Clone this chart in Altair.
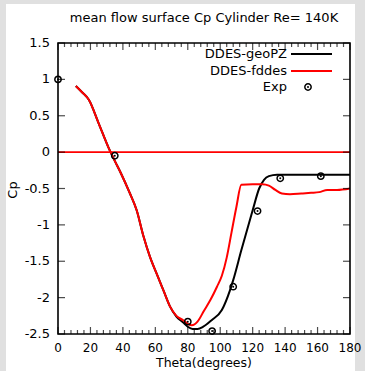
import altair as alt
import pandas as pd

FONT = "DejaVu Sans"
TITLE = "mean flow surface Cp Cylinder Re= 140K"
X_TITLE = "Theta(degrees)"
Y_TITLE = "Cp"

# DDES-geoPZ (black)
geo_theta = [11, 15, 19, 25, 31, 35, 39, 44, 48.5, 52.6, 56.7, 61, 65, 69, 73, 77, 80, 83, 86, 89.5, 94.7, 101, 106, 108, 113, 120, 124, 127, 130, 135, 150, 165, 180]
geo_cp = [0.91, 0.82, 0.72, 0.40, 0.07, -0.12, -0.30, -0.55, -0.80, -1.15, -1.44, -1.68, -1.90, -2.12, -2.26, -2.34, -2.40, -2.43, -2.43, -2.40, -2.31, -2.17, -1.90, -1.76, -1.35, -0.80, -0.50, -0.38, -0.33, -0.31, -0.31, -0.31, -0.31]

# DDES-fddes (red)
fd_theta = [11, 15, 19, 25, 31, 35, 39, 44, 48.5, 52.6, 56.7, 61, 65, 69, 73, 77, 80, 82.5, 86, 90, 94, 98, 101, 104, 107, 110, 113, 120, 126, 130, 134, 138, 143, 150, 156, 161, 166, 172, 180]
fd_cp = [0.91, 0.82, 0.72, 0.40, 0.07, -0.12, -0.30, -0.55, -0.80, -1.15, -1.44, -1.68, -1.90, -2.12, -2.25, -2.31, -2.36, -2.38, -2.33, -2.18, -2.03, -1.85, -1.70, -1.45, -1.10, -0.75, -0.45, -0.44, -0.44, -0.46, -0.52, -0.57, -0.58, -0.57, -0.56, -0.55, -0.52, -0.52, -0.50]

# Experiment
exp_theta = [0, 35, 80, 95, 108, 123, 137, 162]
exp_cp = [1.0, -0.05, -2.33, -2.46, -1.85, -0.81, -0.36, -0.33]

x_major = [0, 20, 40, 60, 80, 100, 120, 140, 160, 180]
x_labels = ["0", "20", "40", "60", "80", "100", "120", "140", "160", "180"]
x_minor = [v for v in range(0, 181, 4) if v % 20 != 0]
y_major = [-2.5, -2.0, -1.5, -1.0, -0.5, 0.0, 0.5, 1.0, 1.5]
y_labels = ["-2.5", "-2", "-1.5", "-1", "-0.5", "0", "0.5", "1", "1.5"]

legend_labels = ["DDES-geoPZ", "DDES-fddes", "Exp"]

W, H = 292, 291

geo = pd.DataFrame({"theta": geo_theta, "cp": geo_cp})
fd = pd.DataFrame({"theta": fd_theta, "cp": fd_cp})
exp = pd.DataFrame({"theta": exp_theta, "cp": exp_cp})
one = pd.DataFrame({"a": [0]})

xs = alt.Scale(domain=[0, 180], nice=False, zero=False)
ys = alt.Scale(domain=[-2.5, 1.5], nice=False, zero=False)

bg = alt.Chart(one).mark_rect(fill="white").encode(
    x=alt.value(-52), x2=alt.value(297), y=alt.value(-39), y2=alt.value(328))

geo_line = alt.Chart(geo).mark_line(color="black", strokeWidth=2, interpolate="monotone").encode(
    x=alt.X("theta:Q", scale=xs, axis=None), y=alt.Y("cp:Q", scale=ys, axis=None))

zero_line = alt.Chart(one).mark_rule(color="#ff0000", strokeWidth=1.6).encode(
    x=alt.datum(0), x2=alt.datum(180), y=alt.datum(0))

fd_line = alt.Chart(fd).mark_line(color="#ff0000", strokeWidth=2, interpolate="monotone").encode(
    x="theta:Q", y="cp:Q")

exp_ring = alt.Chart(exp).mark_point(shape="circle", filled=False, color="black", size=40,
                                     strokeWidth=1.5, opacity=1).encode(x="theta:Q", y="cp:Q")
exp_dot = alt.Chart(exp).mark_point(shape="circle", filled=True, color="black", size=4,
                                    opacity=1).encode(x="theta:Q", y="cp:Q")

frame = alt.Chart(one).mark_rect(fill=None, stroke="black", strokeWidth=1.6).encode(
    x=alt.datum(0), x2=alt.datum(180), y=alt.datum(-2.5), y2=alt.datum(1.5))

xmaj_df = pd.DataFrame({"theta": x_major, "lab": x_labels})
xmin_df = pd.DataFrame({"theta": x_minor})
ymaj_df = pd.DataFrame({"cp": y_major, "lab": y_labels})

tick_layers = []
for df, sz in [(xmaj_df, 7), (xmin_df, 4)]:
    tick_layers.append(alt.Chart(df).mark_tick(orient="vertical", size=sz, thickness=1.2, color="black",
                                               yOffset=-sz / 2).encode(x="theta:Q", y=alt.datum(-2.5)))
    tick_layers.append(alt.Chart(df).mark_tick(orient="vertical", size=sz, thickness=1.2, color="black",
                                               yOffset=sz / 2).encode(x="theta:Q", y=alt.datum(1.5)))
tick_layers.append(alt.Chart(ymaj_df).mark_tick(orient="horizontal", size=7, thickness=1.2, color="black",
                                                xOffset=3.5).encode(y="cp:Q", x=alt.datum(0)))
tick_layers.append(alt.Chart(ymaj_df).mark_tick(orient="horizontal", size=7, thickness=1.2, color="black",
                                                xOffset=-3.5).encode(y="cp:Q", x=alt.datum(180)))

x_tick_labels = alt.Chart(xmaj_df).mark_text(align="center", baseline="middle", font=FONT, fontSize=12,
                                             color="black", dy=14).encode(
    x="theta:Q", y=alt.datum(-2.5), text="lab:N")
y_tick_labels = alt.Chart(ymaj_df).mark_text(align="right", baseline="middle", font=FONT, fontSize=13,
                                             color="black", dx=-8).encode(
    y="cp:Q", x=alt.datum(0), text="lab:N")

title_mark = alt.Chart(one).mark_text(text=TITLE, align="center", baseline="middle", font=FONT,
                                      fontSize=13, color="black").encode(x=alt.value(W / 2), y=alt.value(-25))
x_title = alt.Chart(one).mark_text(text=X_TITLE, align="center", baseline="middle", font=FONT,
                                   fontSize=12.5, color="black").encode(x=alt.value(W / 2), y=alt.value(H + 29))
y_title = alt.Chart(one).mark_text(text=Y_TITLE, align="center", baseline="middle", font=FONT,
                                   fontSize=13, color="black", angle=270).encode(x=alt.value(-45), y=alt.value(147))

leg_y = [11, 28, 44]
leg = []
for lab, yy in zip(legend_labels, leg_y):
    leg.append(alt.Chart(one).mark_text(text=lab, align="right", baseline="middle", font=FONT,
                                        fontSize=13, color="black").encode(x=alt.value(229), y=alt.value(yy)))
leg.append(alt.Chart(one).mark_rule(color="black", strokeWidth=2).encode(
    x=alt.value(233), x2=alt.value(274), y=alt.value(leg_y[0])))
leg.append(alt.Chart(one).mark_rule(color="#ff0000", strokeWidth=2).encode(
    x=alt.value(233), x2=alt.value(274), y=alt.value(leg_y[1])))
leg.append(alt.Chart(one).mark_point(shape="circle", filled=False, color="black", size=40,
                                     strokeWidth=1.5, opacity=1).encode(x=alt.value(250), y=alt.value(leg_y[2])))
leg.append(alt.Chart(one).mark_point(shape="circle", filled=True, color="black", size=4,
                                     opacity=1).encode(x=alt.value(250), y=alt.value(leg_y[2])))

chart = alt.layer(
    bg, geo_line, zero_line, fd_line, exp_ring, exp_dot, frame, *tick_layers,
    x_tick_labels, y_tick_labels, title_mark, x_title, y_title, *leg
).properties(
    width=W, height=H,
    autosize=alt.AutoSizeParams(type="none"),
    padding={"left": 58, "top": 43, "right": 15, "bottom": 37},
    background="#e0e0e0",
).configure_view(stroke=None)

chart.save("out.html", embed_options={"renderer": "svg", "actions": False})
